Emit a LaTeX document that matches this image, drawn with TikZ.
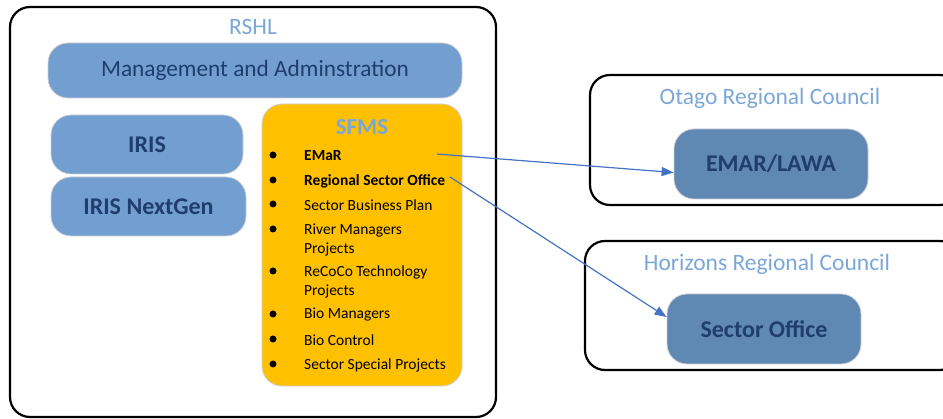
\documentclass[tikz,border=0pt]{standalone}
\usepackage{fontspec}
\setmainfont{Carlito}
\usetikzlibrary{arrows.meta,calc}
\definecolor{lblue}{HTML}{7BA7D8}
\definecolor{boxblue}{HTML}{729FCF}
\definecolor{darkbox}{HTML}{5F88B3}
\definecolor{navy}{HTML}{1F3E6E}
\definecolor{gold}{HTML}{FFC000}
\definecolor{arrowblue}{HTML}{4472C4}
\definecolor{edge}{HTML}{C9CED6}
\tikzset{
  outer/.style={draw=black, line width=2.2pt, rounded corners=20pt},
  title/.style={text=lblue, font=\fontsize{23.5}{27}\selectfont},
  bluebox/.style={draw=edge, line width=0.8pt, fill=boxblue, rounded corners=20pt, text=navy},
  darkbox/.style={draw=edge, line width=0.8pt, fill=darkbox, rounded corners=20pt, text=navy, font=\fontsize{24}{28}\selectfont\bfseries},
  item/.style={anchor=west, inner sep=0pt, font=\fontsize{15.5}{18.5}\selectfont, align=left, text=black},
  bul/.style={circle, fill=black, inner sep=0pt, minimum size=7pt},
  conn/.style={draw=arrowblue, line width=1.2pt, -{Triangle[length=12pt,width=9pt]}}
}
\begin{document}
\begin{tikzpicture}[x=1pt,y=-1pt]
\useasboundingbox (0,0) rectangle (943,419);
\clip (0,0) rectangle (943,419);
% outer boxes
\draw[outer] (10,7) rectangle (496,417);
\node[title] (rshl) at (253,27) {RSHL};
\draw[outer] (590,75) rectangle (960,205);
\node[title] (otago) at (770,98) {Otago Regional Council};
\draw[outer] (585,241) rectangle (960,370);
\node[title] (horizons) at (767,264) {Horizons Regional Council};
% inner nodes
\node[bluebox, minimum width=414pt, minimum height=55pt, font=\fontsize{23.3}{27}\selectfont] (mgmt) at (255,70.5) {Management and Adminstration};
\node[bluebox, minimum width=192pt, minimum height=59pt, font=\fontsize{24}{28}\selectfont\bfseries] (iris) at (147,144.5) {IRIS};
\node[bluebox, minimum width=195pt, minimum height=59pt, font=\fontsize{24}{28}\selectfont\bfseries] (irisng) at (148.5,206.5) {IRIS NextGen};
\node[draw=edge, line width=0.8pt, fill=gold, rounded corners=20pt, minimum width=200pt, minimum height=282pt] (sfms) at (362,245) {};
\node[text=lblue, font=\fontsize{23}{27}\selectfont\bfseries] (sfmst) at (362,127) {SFMS};
% bullets
\foreach \y/\n in {155/b1,180/b2,204/b3,229/b4,271/b5,314/b6,339/b7,364/b8}
  \node[bul] (\n) at (273,\y) {};
\node[item, font=\fontsize{15.5}{18.5}\selectfont\bfseries] (i1) at (304,156) {EMaR};
\node[item, font=\fontsize{15.5}{18.5}\selectfont\bfseries] (i2) at (304,181) {Regional Sector Office};
\node[item] (i3) at (304,205) {Sector Business Plan};
\node[item, anchor=north west] (i4) at (304,224) {River Managers\\Projects};
\node[item, anchor=north west] (i5) at (304,266) {ReCoCo Technology\\Projects};
\node[item] (i6) at (304,315) {Bio Managers};
\node[item] (i7) at (304,340) {Bio Control};
\node[item] (i8) at (304,365) {Sector Special Projects};
% right nodes
\node[darkbox, minimum width=194pt, minimum height=70pt] (emar) at (771,164) {EMAR/LAWA};
\node[darkbox, minimum width=194pt, minimum height=70pt] (so) at (764,329) {Sector Office};
% connectors
\coordinate (s1) at (437,154);
\coordinate (s2) at (450,177);
\draw[conn] (s1) -- (emar.185);
\draw[conn] (s2) -- (so.173);
\end{tikzpicture}
\end{document}
